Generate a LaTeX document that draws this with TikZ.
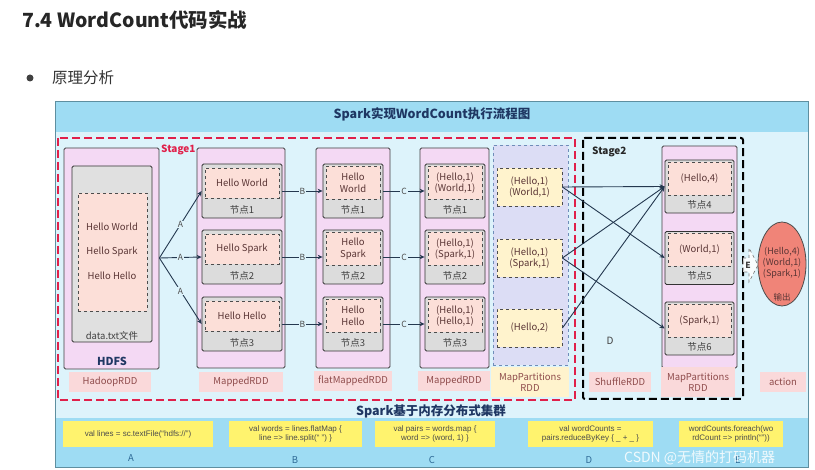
\documentclass[tikz,border=0pt]{standalone}
\usepackage{fontspec}
\setmainfont{Noto Sans CJK SC}
\newfontfamily\codefont{Liberation Sans}
\usetikzlibrary{arrows.meta,shapes.geometric}
\definecolor{bgmid}{HTML}{DDF3FB}
\definecolor{band}{HTML}{9EDCF3}
\definecolor{framec}{HTML}{5E8FA0}
\definecolor{colpink}{HTML}{F4D9F4}
\definecolor{nodegray}{HTML}{DCDCDC}
\definecolor{innerpink}{HTML}{FCDFD8}
\definecolor{lav}{HTML}{DCDDF5}
\definecolor{lavborder}{HTML}{6F8DB8}
\definecolor{paleyel}{HTML}{FFF3CD}
\definecolor{codeyel}{HTML}{FFF36E}
\definecolor{navy}{HTML}{1F3763}
\definecolor{arrowc}{HTML}{24384F}
\definecolor{stagered}{HTML}{E0204A}
\definecolor{labelpink}{HTML}{FAD9DA}
\definecolor{labeltxt}{HTML}{8E4B4B}
\definecolor{nodetxt}{HTML}{5A3535}
\definecolor{ellfill}{HTML}{F08478}
\definecolor{letterc}{HTML}{2E6A96}
\tikzset{
  colbox/.style={draw=black!75, fill=colpink, line width=0.8pt, rounded corners=1.5pt, inner sep=0pt},
  nodebox/.style={draw=black!80, fill=nodegray, line width=0.8pt, rounded corners=1.5pt, inner sep=0pt},
  innerbox/.style={draw=black!70, dashed, line width=0.8pt, fill=innerpink, inner sep=0pt, align=center,
    text=nodetxt, font=\fontsize{9.5}{11.5}\selectfont},
  yelbox/.style={draw=black!70, dashed, line width=0.8pt, fill=paleyel, inner sep=0pt, align=center,
    text=nodetxt, font=\fontsize{9.5}{11.5}\selectfont, minimum width=65pt, minimum height=38pt},
  nlabel/.style={text=black!75, font=\fontsize{9.5}{10}\selectfont, inner sep=0pt},
  rddlabel/.style={fill=labelpink, text=labeltxt, font=\fontsize{9.5}{10}\selectfont, align=center,
    inner sep=0pt, minimum height=20pt},
  flow/.style={draw=arrowc, line width=0.9pt, -{Stealth[length=5pt,width=4.5pt]}},
  flowlab/.style={fill=bgmid, text=black!70, font=\fontsize{8.5}{9}\selectfont, inner sep=0.8pt},
  codebox/.style={fill=codeyel, text=black!70, font=\codefont\fontsize{8}{9.5}\selectfont, align=center,
    inner sep=0pt, minimum height=26pt},
  codeletter/.style={text=letterc, font=\fontsize{9.5}{10}\selectfont, inner sep=0pt},
}
\begin{document}
\begin{tikzpicture}[x=1pt,y=-1pt]
\useasboundingbox (0,0) rectangle (815,470);
\fill[white] (0,0) rectangle (815,470);

% page title and bullet
\node[anchor=west, font=\fontsize{19.5}{21}\selectfont\bfseries, text=black!85, inner sep=0pt] (title) at (22,20) {7.4 WordCount代码实战};
\fill[black!75] (30,78) circle (3.5);
\node[anchor=west, font=\fontsize{15.5}{17}\selectfont, text=black!80, inner sep=0pt] (sub) at (52,78) {原理分析};

% frame
\fill[bgmid] (55,101) rectangle (808,467);
\fill[band] (55,101) rectangle (808,132);
\fill[band] (55,418) rectangle (808,467);
\draw[framec, line width=0.6pt] (55,101) rectangle (808,467);
\node[font=\fontsize{12.5}{13}\selectfont\bfseries, text=navy] (head) at (432,114) {Spark实现WordCount执行流程图};
\node[font=\fontsize{12.5}{13}\selectfont\bfseries, text=navy] (foot) at (431,411) {Spark基于内存分布式集群};

% stages
\draw[stagered, line width=2pt, dash pattern=on 8pt off 4pt] (58,138) rectangle (575,400);
\node[anchor=west, text=stagered, font=\fontsize{10}{11}\selectfont\bfseries, inner sep=0pt] (st1) at (161,150) {Stage1};
\draw[black, line width=2pt, dash pattern=on 8pt off 4pt, rounded corners=2pt] (583,138) rectangle (743,399);
\node[anchor=west, text=black!85, font=\fontsize{10}{11}\selectfont\bfseries, inner sep=0pt] (st2) at (592,152) {Stage2};

% HDFS column
\node[colbox, minimum width=95pt, minimum height=221pt] (hdfs) at (111.5,258.5) {};
\node[nodebox, fill=black!12, minimum width=80pt, minimum height=176pt] (hdfsg) at (112,254) {};
\node[innerbox, minimum width=69pt, minimum height=118pt] (hdfsd) at (112.5,252) {};
\node[text=nodetxt, font=\fontsize{9.5}{11}\selectfont, inner sep=0pt] (h1) at (112,227) {Hello World};
\node[text=nodetxt, font=\fontsize{9.5}{11}\selectfont, inner sep=0pt] (h2) at (112,252) {Hello Spark};
\node[text=nodetxt, font=\fontsize{9.5}{11}\selectfont, inner sep=0pt] (h3) at (112,276) {Hello Hello};
\node[nlabel] (hfile) at (112,336) {data.txt文件};
\node[text=navy, font=\fontsize{11}{12}\selectfont\bfseries, inner sep=0pt] (hname) at (112,361) {HDFS};

% MappedRDD column
\node[colbox, minimum width=88pt, minimum height=220pt] (mcol) at (241,258) {};
\foreach \i/\y/\t in {1/191/{Hello World}, 2/257/{Hello Spark}, 3/324/{Hello Hello}} {
  \node[nodebox, minimum width=80pt, minimum height=54pt] (m\i) at (242,\y) {};
  \node[innerbox, minimum width=74pt, minimum height=30pt] (m\i txt) at (242,\y-8) {\t};
  \node[nlabel] (m\i lab) at (242,\y+19) {节点\i};
}

% flatMappedRDD column
\node[colbox, minimum width=74pt, minimum height=220pt] (fcol) at (353,258) {};
\foreach \i/\y/\t in {1/191/{Hello\\World}, 2/257/{Hello\\Spark}, 3/324/{Hello\\Hello}} {
  \node[nodebox, minimum width=60pt, minimum height=54pt] (f\i) at (353,\y) {};
  \node[innerbox, minimum width=54pt, minimum height=33pt] (f\i txt) at (353,\y-8) {\t};
  \node[nlabel] (f\i lab) at (353,\y+19) {节点\i};
}

% MappedRDD column 2
\node[colbox, minimum width=69pt, minimum height=220pt] (gcol) at (454.5,258) {};
\foreach \i/\y/\t in {1/191/{(Hello,1)\\(World,1)}, 2/257/{(Hello,1)\\(Spark,1)}, 3/324/{(Hello,1)\\(Hello,1)}} {
  \node[nodebox, minimum width=60pt, minimum height=54pt] (g\i) at (455,\y) {};
  \node[innerbox, minimum width=54pt, minimum height=33pt] (g\i txt) at (455,\y-8) {\t};
  \node[nlabel] (g\i lab) at (455,\y+19) {节点\i};
}

% MapPartitions column 1
\node[draw=lavborder, dashed, line width=0.8pt, fill=lav, minimum width=75pt, minimum height=220pt, inner sep=0pt] (pcol) at (530.5,255) {};
\node[yelbox] (p1) at (529.5,187) {(Hello,1)\\(World,1)};
\node[yelbox] (p2) at (529.5,258) {(Hello,1)\\(Spark,1)};
\node[yelbox] (p3) at (529.5,328) {(Hello,2)};

% MapPartitions column 2
\node[colbox, minimum width=75pt, minimum height=222pt] (qcol) at (699.5,257) {};
\foreach \i/\j/\y/\t in {1/4/186.5/{(Hello,4)}, 2/5/258/{(World,1)}, 3/6/328.5/{(Spark,1)}} {
  \node[nodebox, minimum width=69pt, minimum height=53pt] (q\i) at (699.5,\y) {};
  \node[innerbox, minimum width=63pt, minimum height=33pt] (q\i txt) at (699.5,\y-8) {\t};
  \node[nlabel] (q\i lab) at (699.5,\y+18) {节点\j};
}

% RDD labels
\node[rddlabel, minimum width=82pt] (lhadoop) at (110,382) {HadoopRDD};
\node[rddlabel, minimum width=84pt] (lmap1) at (241,382) {MappedRDD};
\node[rddlabel, minimum width=78pt] (lflat) at (353,381) {flatMappedRDD};
\node[rddlabel, minimum width=72pt] (lmap2) at (454,381) {MappedRDD};
\node[rddlabel, fill=paleyel, minimum width=78pt, minimum height=30pt, font=\fontsize{9.5}{11}\selectfont] (lmp1) at (530,382) {MapPartitions\\RDD};
\node[rddlabel, minimum width=62pt] (lshuf) at (620,382) {ShuffleRDD};
\node[rddlabel, minimum width=74pt, minimum height=30pt, font=\fontsize{9.5}{11}\selectfont] (lmp2) at (698,382) {MapPartitions\\RDD};
\node[rddlabel, minimum width=46pt] (lact) at (783,382) {action};
\node[text=black!75, font=\fontsize{10}{11}\selectfont, inner sep=0pt] (dlab) at (610,341) {D};

% A arrows
\foreach \i in {1,2,3} {
  \draw[flow] (hdfs.east |- 160,258) -- node[flowlab] {A} (m\i.west);
}
% B and C arrows
\foreach \i in {1,2,3} {
  \draw[flow] (m\i.east) -- node[flowlab] {B} (f\i.west);
  \draw[flow] (f\i.east) -- node[flowlab] {C} (g\i.west);
}
% shuffle arrows
\draw[flow] (p1.east) -- (q1.west);
\draw[flow] (p1.east) -- (q2.west);
\draw[flow] (p2.east) -- (q1.west);
\draw[flow] (p2.east) -- (q3.west);
\draw[flow] (p3.east) -- (q1.west);

% E block arrow
\draw[black!55, dashed, line width=0.6pt, fill=white, fill opacity=0.8]
  (743,258) -- (749,258) -- (749,248) -- (758,265) -- (749,282) -- (749,272) -- (743,272) -- cycle;
\node[text=black!75, font=\fontsize{8.5}{9}\selectfont\bfseries, inner sep=0pt] (elab) at (748,265) {E};

% output ellipse
\node[ellipse, draw=black!70, line width=0.8pt, fill=ellfill, minimum width=48pt, minimum height=84pt, inner sep=0pt] (out) at (782,264) {};
\node[text=nodetxt, align=center, font=\fontsize{9}{11}\selectfont, inner sep=0pt] (outtxt) at (782,263) {(Hello,4)\\(World,1)\\(Spark,1)};
\node[text=nodetxt, font=\fontsize{8.5}{9}\selectfont, inner sep=0pt] (outlab) at (782,297) {输出};

% code boxes
\node[codebox, minimum width=150pt] (cA) at (138,434) {val lines = sc.textFile(“hdfs://”)};
\node[codebox, minimum width=133pt] (cB) at (295.5,434) {val words = lines.flatMap \{\\line => line.split(“ ”) \}};
\node[codebox, minimum width=120pt] (cC) at (435,434) {val pairs = words.map \{\\word => (word, 1) \}};
\node[codebox, minimum width=125pt] (cD) at (590.5,434) {val wordCounts =\\pairs.reduceByKey \{ \_ + \_ \}};
\node[codebox, minimum width=104pt] (cE) at (731,434) {wordCounts.foreach(wo\\rdCount => println(“”))};
\node[codeletter] (la) at (131,458) {A};
\node[codeletter] (lb) at (295,460) {B};
\node[codeletter] (lc) at (432,460) {C};
\node[codeletter] (ld) at (589,460) {D};
\node[codeletter] (le) at (738,460) {E};

% watermark
\node[anchor=west, text=white, opacity=0.85, font=\fontsize{14}{15}\selectfont, inner sep=0pt] (wm) at (624,458) {CSDN @无情的打码机器};
\end{tikzpicture}
\end{document}
